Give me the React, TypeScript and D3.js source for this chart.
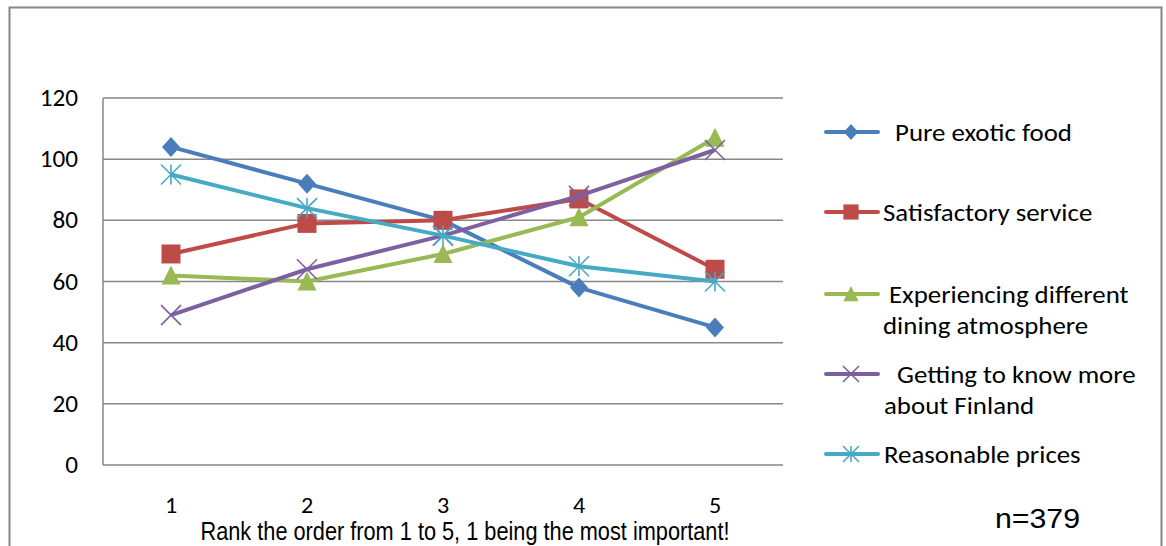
import React from "react";
import * as d3 from "d3";

const categories = ["1", "2", "3", "4", "5"];
const seriesNames = [
  ["Pure exotic food"],
  ["Satisfactory service"],
  ["Experiencing different", "dining atmosphere"],
  ["Getting to know more", "about Finland"],
  ["Reasonable prices"],
];
const exoticFood = [104, 92, 80, 58, 45];
const service = [69, 79, 80, 87, 64];
const atmosphere = [62, 60, 69, 81, 107];
const finland = [49, 64, 75, 88, 103];
const prices = [95, 84, 75, 65, 60];
const yTicks = [0, 20, 40, 60, 80, 100, 120];
const colors = ["#4A7EBB", "#BE4B48", "#98B954", "#7D60A0", "#46AAC5"];
const markers = ["diamond", "square", "triangle", "x", "star"];
const seriesValues = [exoticFood, service, atmosphere, finland, prices];

const W = 1166, H = 546;
const left = 103, right = 783, top = 98, bottom = 465;

function Marker({ kind, x, y, color, s }: { kind: string; x: number; y: number; color: string; s: number }) {
  if (kind === "diamond")
    return <path d={`M${x},${y - s}L${x + s * 0.9},${y}L${x},${y + s}L${x - s * 0.9},${y}Z`} fill={color} />;
  if (kind === "square")
    return <rect x={x - s * 0.95} y={y - s * 0.95} width={1.9 * s} height={1.9 * s} fill={color} />;
  if (kind === "triangle")
    return <path d={`M${x},${y - s}L${x + s * 0.95},${y + s * 0.9}L${x - s * 0.95},${y + s * 0.9}Z`} fill={color} />;
  if (kind === "x")
    return (
      <path d={`M${x - s},${y - s}L${x + s},${y + s}M${x - s},${y + s}L${x + s},${y - s}`} stroke={color} strokeWidth={1.6} />
    );
  return (
    <path
      d={`M${x - s},${y - s}L${x + s},${y + s}M${x - s},${y + s}L${x + s},${y - s}M${x},${y - s}L${x},${y + s}`}
      stroke={color}
      strokeWidth={1.6}
    />
  );
}

export default function App() {
  const x = d3.scaleBand().domain(categories).range([left, right]);
  const y = d3.scaleLinear().domain([0, 120]).range([bottom, top]);
  const cx = (c: string) => (x(c) as number) + x.bandwidth() / 2;
  const line = d3
    .line<number>()
    .x((_, i) => cx(categories[i]))
    .y((v) => y(v));

  const legendY = [132, 212, 294, 374, 454];
  const legendIndent = [[12], [0], [6, 0], [14, 1], [1]];
  const font = "Carlito, Calibri, 'Open Sans', 'Noto Sans', sans-serif";
  const sx = 1.12;

  return (
    <svg width={W} height={H} style={{ position: "absolute", left: 0, top: 0 }}>
      <rect x={0} y={0} width={W} height={H} fill="#fff" />
      <path d={`M9.5,${H}V7.5H1161.5V${H}`} fill="none" stroke="#868686" strokeWidth={2} />
      {yTicks.map((t) => (
        <g key={t}>
          <line x1={left} x2={right} y1={y(t)} y2={y(t)} stroke="#878787" strokeWidth={1.5} />
          <text
            transform={`translate(78,${y(t) + 8}) scale(1.05,1)`}
            textAnchor="end"
            fontFamily={font}
            fontSize={24}
            fill="#000"
          >
            {t}
          </text>
        </g>
      ))}
      <line x1={left} x2={left} y1={top} y2={bottom} stroke="#878787" strokeWidth={1.5} />
      {categories.map((c) => (
        <text key={c} transform={`translate(${cx(c)},513) scale(1.05,1)`} textAnchor="middle" fontFamily={font} fontSize={23}>
          {c}
        </text>
      ))}
      <text
        x={465}
        y={540}
        textAnchor="middle"
        fontFamily="'Liberation Sans Narrow', 'Arial Narrow', 'Liberation Sans', Arial, sans-serif"
        fontSize={25}
        textLength={529}
        lengthAdjust="spacingAndGlyphs"
      >
        Rank the order from 1 to 5, 1 being the most important!
      </text>
      {seriesValues.map((vals, si) => (
        <g key={si}>
          <path d={line(vals) as string} fill="none" stroke={colors[si]} strokeWidth={4} strokeLinejoin="round" />
          {vals.map((v, i) => (
            <Marker key={i} kind={markers[si]} x={cx(categories[i])} y={y(v)} color={colors[si]} s={10} />
          ))}
        </g>
      ))}
      {seriesNames.map((lines, si) => {
        const ly = legendY[si];
        return (
          <g key={si}>
            <line x1={826} x2={878} y1={ly} y2={ly} stroke={colors[si]} strokeWidth={4} strokeLinecap="round" />
            <Marker kind={markers[si]} x={851} y={ly} color={colors[si]} s={8} />
            {lines.map((l, li) => (
              <text
                key={li}
                transform={`translate(${883 + legendIndent[si][li]},${ly + 8.7 + li * 31.5}) scale(${sx},1)`}
                fontFamily={font}
                fontSize={24}
              >
                {l}
              </text>
            ))}
          </g>
        );
      })}
      <text
        x={995}
        y={528}
        fontFamily="'Liberation Sans', Arial, sans-serif"
        fontSize={28}
        textLength={85}
        lengthAdjust="spacingAndGlyphs"
      >
        n=379
      </text>
    </svg>
  );
}
